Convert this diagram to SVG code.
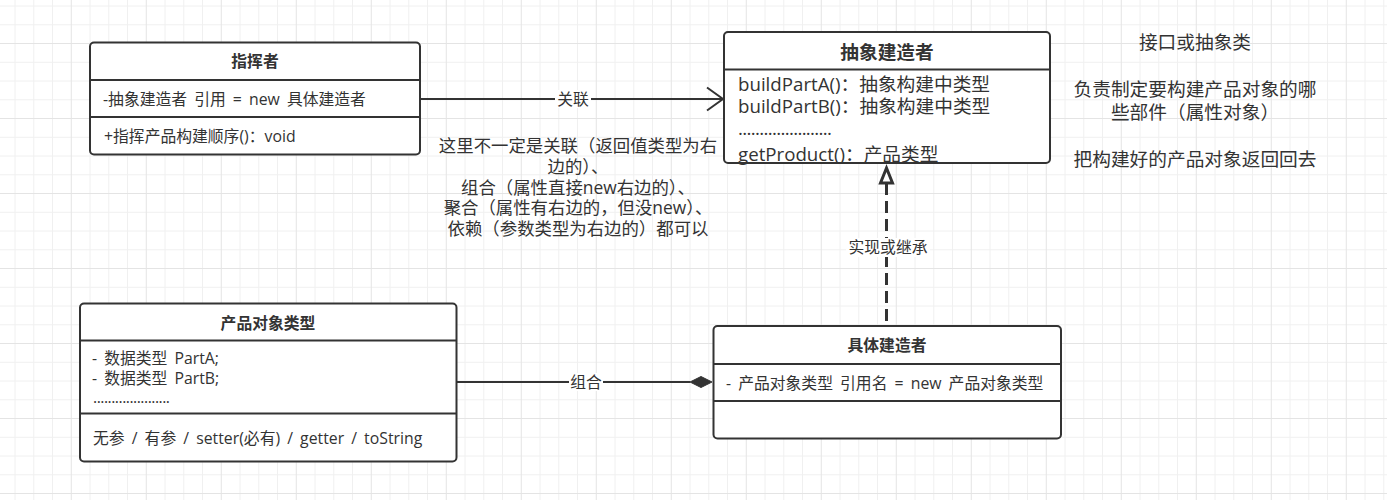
<svg xmlns="http://www.w3.org/2000/svg" width="1387" height="500" viewBox="0 0 1387 500">
<defs>
<pattern id="grid" x="0" y="0" width="75" height="75" patternUnits="userSpaceOnUse">
<g stroke="#f0f0f0" stroke-width="1" fill="none">
<line x1="15" y1="0" x2="15" y2="75"/>
<line x1="33.75" y1="0" x2="33.75" y2="75"/>
<line x1="52.5" y1="0" x2="52.5" y2="75"/>
<line x1="0" y1="6" x2="75" y2="6"/>
<line x1="0" y1="24.75" x2="75" y2="24.75"/>
<line x1="0" y1="62.25" x2="75" y2="62.25"/>
</g>
<g stroke="#e4e4e4" stroke-width="1" fill="none">
<line x1="71.25" y1="0" x2="71.25" y2="75"/>
<line x1="0" y1="43.5" x2="75" y2="43.5"/>
</g>
</pattern>
<style>
.box{fill:#fff;stroke:#333;stroke-width:2}
.sep{stroke:#333;stroke-width:2}
.t{font-family:"Open Sans","Noto Sans CJK SC",sans-serif;fill:#333;font-size:15.8px;dominant-baseline:central;word-spacing:3px}
.b{font-weight:bold}
.l{font-size:18.7px}
.m{text-anchor:middle}
.conn{stroke:#333;stroke-width:2;fill:none}
.lbg{fill:#fff}
</style>
</defs>
<rect width="1387" height="500" fill="#fff"/>
<rect width="1387" height="500" fill="url(#grid)"/>

<g id="connectors">
<g id="assoc">
<line class="conn" x1="420" y1="99" x2="723" y2="99"/>
<polyline class="conn" points="707,87.5 723,99 707,110.5"/>
<rect class="lbg" x="555" y="90" width="36" height="18"/>
<text class="t m" x="573" y="99">关联</text>
</g>
<g id="realize">
<line x1="886.5" y1="183" x2="886.5" y2="326" stroke="#333" stroke-width="3" stroke-dasharray="12 6"/>
<polygon points="886.5,168 880.5,183 892.5,183" fill="#fff" stroke="#333" stroke-width="3" stroke-linejoin="miter"/>
<rect class="lbg" x="846" y="238" width="84" height="19"/>
<text class="t m" x="888" y="247">实现或继承</text>
</g>
<g id="compose">
<line class="conn" x1="457" y1="382" x2="690" y2="382"/>
<polygon points="690,382 701,376.5 712,382 701,387.5" fill="#333" stroke="#333" stroke-width="1"/>
<rect class="lbg" x="569" y="373" width="34" height="18"/>
<text class="t m" x="586" y="382">组合</text>
</g>
</g>

<g id="director">
<rect class="box" x="90" y="42.5" width="330" height="112" rx="4"/>
<line class="sep" x1="90" y1="80" x2="420" y2="80"/>
<line class="sep" x1="90" y1="117" x2="420" y2="117"/>
<text class="t b m" x="255" y="61">指挥者</text>
<text class="t" x="103" y="98.5">-抽象建造者 引用 = new 具体建造者</text>
<text class="t" x="104" y="135.5">+指挥产品构建顺序()：void</text>
</g>

<g id="abstract-builder">
<rect class="box" x="724" y="32" width="326" height="131" rx="4"/>
<line class="sep" x1="724" y1="69.5" x2="1050" y2="69.5"/>
<text class="t l b m" x="887" y="51">抽象建造者</text>
<text class="t l" x="738" y="83">buildPartA()：抽象构建中类型</text>
<text class="t l" x="738" y="105">buildPartB()：抽象构建中类型</text>
<text class="t l" x="738" y="127" textLength="94" lengthAdjust="spacing">......................</text>
<text class="t l" x="738" y="153">getProduct()：产品类型</text>
</g>

<g id="product">
<rect class="box" x="80" y="303.5" width="376.5" height="158" rx="4"/>
<line class="sep" x1="80" y1="340.5" x2="456.5" y2="340.5"/>
<line class="sep" x1="80" y1="413.5" x2="456.5" y2="413.5"/>
<text class="t b m" x="268" y="323">产品对象类型</text>
<text class="t" x="92" y="358">- 数据类型 PartA;</text>
<text class="t" x="92" y="378">- 数据类型 PartB;</text>
<text class="t" x="93" y="397" textLength="77" lengthAdjust="spacing">.....................</text>
<text class="t" x="93" y="438">无参 / 有参 / setter(必有) / getter / toString</text>
</g>

<g id="concrete-builder">
<rect class="box" x="713.5" y="326" width="347.5" height="112.5" rx="4"/>
<line class="sep" x1="713.5" y1="364" x2="1061" y2="364"/>
<line class="sep" x1="713.5" y1="401" x2="1061" y2="401"/>
<text class="t b m" x="887" y="345">具体建造者</text>
<text class="t" x="726" y="383">- 产品对象类型 引用名 = new 产品对象类型</text>
</g>

<g id="note-middle">
<text class="t m" x="578" y="145" style="font-size:17.4px">这里不一定是关联（返回值类型为右</text>
<text class="t m" x="578" y="166" style="font-size:17.4px">边的）、</text>
<text class="t m" x="578" y="186.5" style="font-size:17.4px">组合（属性直接new右边的）、</text>
<text class="t m" x="578" y="207" style="font-size:17.4px">聚合（属性有右边的，但没new）、</text>
<text class="t m" x="578" y="228" style="font-size:17.4px">依赖（参数类型为右边的）都可以</text>
</g>

<g id="note-right">
<text class="t l m" x="1195" y="41.5">接口或抽象类</text>
<text class="t l m" x="1195" y="88">负责制定要构建产品对象的哪</text>
<text class="t l m" x="1195" y="111.5">些部件（属性对象）</text>
<text class="t l m" x="1195" y="158">把构建好的产品对象返回回去</text>
</g>
</svg>
